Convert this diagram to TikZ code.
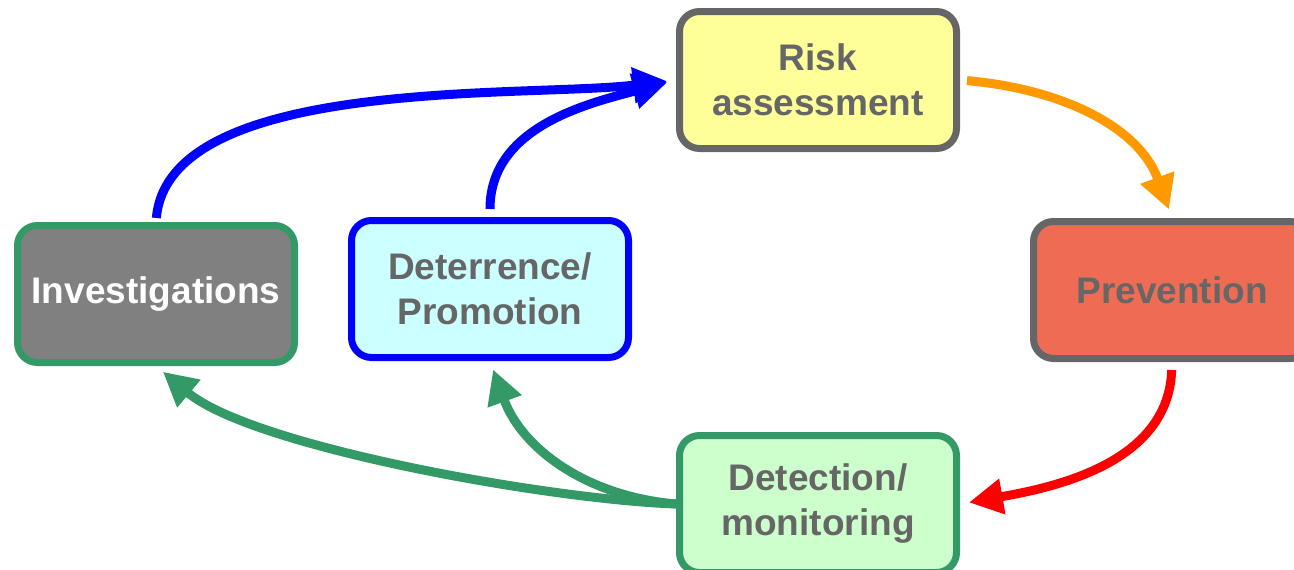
\documentclass[tikz,border=0pt]{standalone}
\usepackage{fontspec}
\setmainfont{Liberation Sans}
\usetikzlibrary{arrows.meta,positioning}
\definecolor{stagegrey}{HTML}{666666}
\definecolor{stagegreen}{HTML}{339966}
\definecolor{riskfill}{HTML}{FFFF99}
\definecolor{prevfill}{HTML}{EF6C54}
\definecolor{detfill}{HTML}{CCFFCC}
\definecolor{deterfill}{HTML}{CCFFFF}
\definecolor{invfill}{HTML}{808080}
\definecolor{flowblue}{HTML}{0000FF}
\definecolor{floworange}{HTML}{FF9900}
\definecolor{flowred}{HTML}{FF0000}
\tikzstyle{stage}=[
	rectangle,
	rounded corners=20pt,
	line width=7pt,
	draw=stagegrey,
	text=stagegrey,
	align=center,
	minimum width=277pt,
	minimum height=137pt,
	font=\fontsize{37}{45}\selectfont\bfseries,
	node distance=50pt and 50pt
]
\tikzstyle{flow}=[
	line width=9pt,
	-{Triangle[length=34pt,width=34pt]},
	shorten >=9pt
]

\begin{document}
\begin{tikzpicture}[x=1pt,y=-1pt]
\useasboundingbox (0,0) rectangle (1294,570);
\node [stage, fill=riskfill] (Risk) at (818,80) {Risk\\assessment};
\node [stage, fill=prevfill] (Prevention) at (1172,290) {Prevention};
\node [stage, fill=detfill, draw=stagegreen] (Detection)[below=280pt of Risk] {Detection/\\monitoring};
\node [stage, fill=invfill, draw=stagegreen, text=white] (Investigations) at (156,294) {Investigations};
\node [stage, fill=deterfill, draw=flowblue] (Deterrence)[right=of Investigations, yshift=5pt] {Deterrence/\\Promotion};
% cycle
\draw [flow, floworange, shorten <=7pt] (Risk.east) to[out=-5, in=110] (Prevention.north);
\draw [flow, flowred, shorten <=8pt] (Prevention.south) to[out=-92, in=10] (Detection.east);
\draw [flow, stagegreen] (Detection.west) to[out=175, in=-70] (Deterrence.south);
\draw [flow, stagegreen] (Detection.west) to[out=178, in=-40, looseness=0.6] (Investigations.south);
\draw [flow, flowblue, shorten <=8pt] (Deterrence.north) to[out=90, in=195] (Risk.west);
\draw [flow, flowblue, shorten <=4pt] (Investigations.north) to[out=85, in=187, looseness=0.7] (Risk.west);
\end{tikzpicture}
\end{document}
